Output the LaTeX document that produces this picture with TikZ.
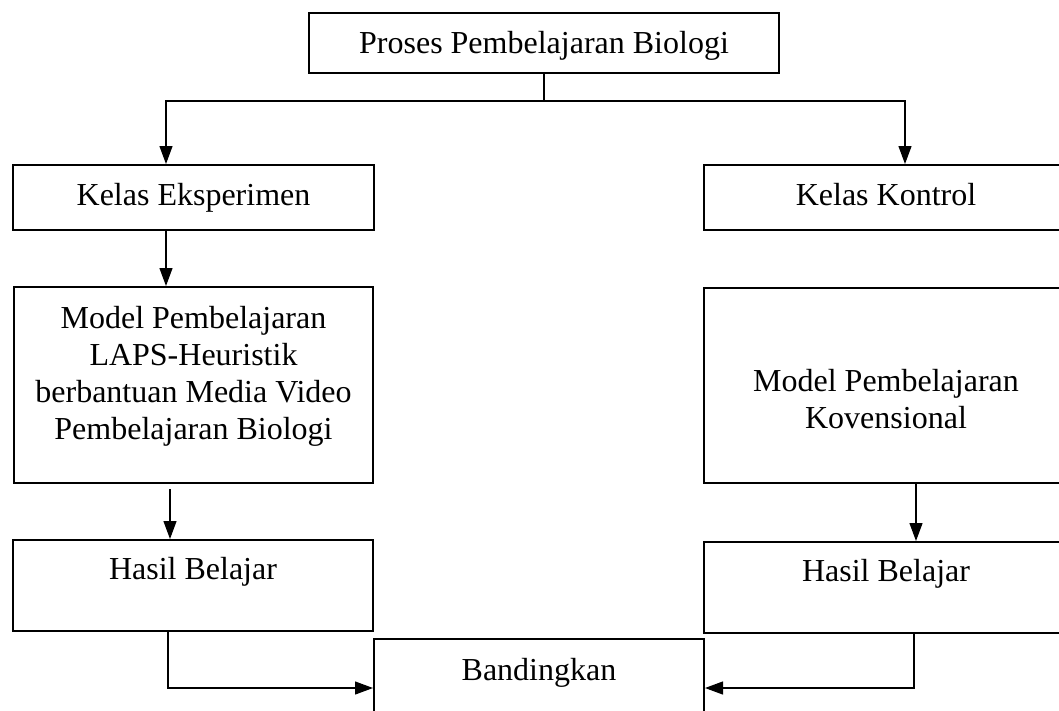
\documentclass[tikz,border=0pt]{standalone}
\usepackage{fontspec}
\setmainfont{Liberation Serif}
\usetikzlibrary{arrows.meta}

\begin{document}
\begin{tikzpicture}[x=1pt, y=-1pt]
        \tikzstyle{box} = [draw, line width=2pt, inner sep=0pt, anchor=north west, font=\fontsize{32}{37}\selectfont];
        \tikzstyle{link} = [line width=1.2pt];
        \tikzstyle{arr} = [link, -{Triangle[length=18pt,width=13pt]}];

        \useasboundingbox (0,0) rectangle (1059,710);

        \node [box, minimum width=470pt, text height=40pt, text depth=20pt] (proses) at (308,12) {Proses Pembelajaran Biologi};
        \node [box, minimum width=361pt, text height=40pt, text depth=25pt] (kelasE) at (12,164) {Kelas Eksperimen};
        \node [box, minimum width=364pt, text height=40pt, text depth=25pt] (kelasK) at (703,164) {Kelas Kontrol};

        \node [box, minimum width=359pt, text height=96pt, text depth=100pt] (modelL) at (13,286) {
            \begin{tabular}{@{}c@{}}Model Pembelajaran\\LAPS-Heuristik\\berbantuan Media Video\\Pembelajaran Biologi\end{tabular}
        };
        \node [box, minimum width=364pt, text height=121pt, text depth=74pt] (modelR) at (703,287) {
            \begin{tabular}{@{}c@{}}Model Pembelajaran\\Kovensional\end{tabular}
        };

        \node [box, minimum width=360pt, text height=39pt, text depth=52pt] (hasilL) at (12,539) {Hasil Belajar};
        \node [box, minimum width=364pt, text height=39pt, text depth=52pt] (hasilR) at (703,541) {Hasil Belajar};
        \node [box, minimum width=330pt, text height=41pt, text depth=57pt] (band) at (373,638) {Bandingkan};

        \draw [link] (proses.south) -- ++(0,27) coordinate (split);
        \draw [arr] (split) -| ([xshift=-27.5pt]kelasE.north);
        \draw [arr] (split) -| ([xshift=19pt]kelasK.north);
        \draw [arr] ([xshift=-27.5pt]kelasE.south) -- ([xshift=-27.5pt]modelL.north);
        \draw [arr, shorten <=5pt] ([xshift=-23.5pt]modelL.south) -- ([xshift=-23pt]hasilL.north);
        \draw [arr] ([xshift=30pt]modelR.south) -- ([xshift=30pt]hasilR.north);
        \draw [arr] ([xshift=-25pt]hasilL.south) |- (band.west);
        \draw [arr] ([xshift=28pt]hasilR.south) |- (band.east);
    \end{tikzpicture}
\end{document}
